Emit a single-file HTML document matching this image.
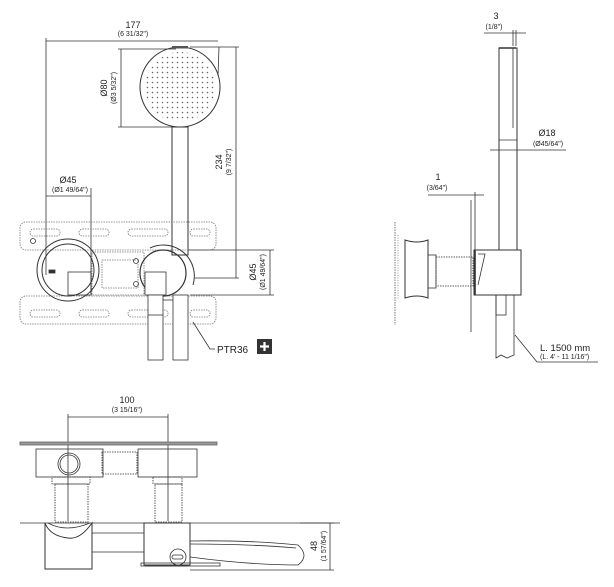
<!DOCTYPE html>
<html><head><meta charset="utf-8"><style>
html,body{margin:0;padding:0;background:#fff;width:614px;height:587px;overflow:hidden}
svg{display:block}
text{font-family:"Liberation Sans",sans-serif;fill:#222}
.t{font-size:9px}.s{font-size:7px}
</style></head><body>
<svg width="614" height="587" viewBox="0 0 614 587" xmlns="http://www.w3.org/2000/svg" fill="none" stroke="#333" stroke-width="0.8">
<!-- ===== FRONT VIEW ===== -->
<!-- 177 dim -->
<line x1="46" y1="38" x2="46" y2="275"/>
<line x1="46" y1="41" x2="218" y2="41"/>
<line x1="219" y1="47" x2="218" y2="76"/>
<text class="t" x="133" y="28" text-anchor="middle" stroke="none">177</text>
<text class="s" x="133" y="36" text-anchor="middle" stroke="none">(6 31/32")</text>
<!-- shower head -->
<circle cx="180" cy="87" r="40" stroke-width="1"/>
<rect x="172" y="46" width="16" height="2.5" fill="#555" stroke="none"/>
<g fill="#777" stroke="none">
<pattern id="dots" width="5" height="5" patternUnits="userSpaceOnUse"><circle cx="2.5" cy="2.5" r="0.8" fill="#666"/></pattern>
<circle cx="180" cy="87" r="35" fill="url(#dots)"/>
</g>
<!-- Ø80 dim -->
<line x1="118" y1="49" x2="176" y2="49"/>
<line x1="118" y1="127" x2="176" y2="127"/>
<line x1="121" y1="49" x2="121" y2="127"/>
<text class="t" transform="translate(107,88) rotate(-90)" text-anchor="middle" stroke="none">Ø80</text>
<text class="s" transform="translate(116,88) rotate(-90)" text-anchor="middle" stroke="none">(Ø3 5/32")</text>
<!-- handle -->
<rect x="172" y="127" width="16" height="128" stroke-width="1"/>
<!-- 234 dim -->
<line x1="190" y1="47" x2="239" y2="47"/>
<line x1="195" y1="278" x2="239" y2="278"/>
<line x1="236" y1="47" x2="236" y2="278"/>
<text class="t" transform="translate(222,162) rotate(-90)" text-anchor="middle" stroke="none">234</text>
<text class="s" transform="translate(231,162) rotate(-90)" text-anchor="middle" stroke="none">(9 7/32")</text>
<!-- Ø45 left dim -->
<line x1="46" y1="196" x2="91" y2="196"/>
<line x1="91" y1="188" x2="91" y2="295"/>
<text class="t" x="68" y="183" text-anchor="middle" stroke="none">Ø45</text>
<text class="s" x="70" y="192" text-anchor="middle" stroke="none">(Ø1 49/64")</text>
<!-- plates -->
<g stroke="#777" stroke-dasharray="1.5 1">
<rect x="20" y="222" width="196" height="28" rx="6"/>
<rect x="20" y="296" width="196" height="28" rx="6"/>
<rect x="30" y="229" width="30" height="7" rx="3.5"/><rect x="79" y="229" width="30" height="7" rx="3.5"/><rect x="128" y="229" width="40" height="7" rx="3.5"/><rect x="190" y="229" width="20" height="7" rx="3.5"/>
<rect x="30" y="310" width="30" height="7" rx="3.5"/><rect x="79" y="310" width="30" height="7" rx="3.5"/><rect x="128" y="310" width="40" height="7" rx="3.5"/><rect x="190" y="310" width="20" height="7" rx="3.5"/>
<rect x="92" y="252" width="52" height="43"/>
<rect x="102" y="260" width="36" height="28"/>
</g>
<circle cx="33" cy="241" r="2.5"/>
<!-- left circle -->
<circle cx="68" cy="270" r="31" stroke-width="1"/>
<circle cx="68" cy="270" r="26" stroke-width="1"/>
<rect x="68" y="272" width="23" height="23"/>
<rect x="49" y="270" width="6" height="3" fill="#333"/>
<circle cx="136" cy="261" r="2.5"/><circle cx="136" cy="284" r="2.5"/>
<!-- right circle -->
<path d="M150 248 A31 31 0 0 1 193 285" stroke-width="1"/>
<circle cx="163" cy="273" r="23" stroke-width="1.2"/>
<rect x="145" y="272" width="21" height="23" fill="#fff"/>
<!-- hoses -->
<rect x="148" y="295" width="15" height="65" fill="#fff"/>
<line x1="148" y1="315" x2="163" y2="315"/>
<rect x="173" y="295" width="15" height="65" fill="#fff"/>
<line x1="163" y1="300" x2="173" y2="300"/>
<!-- Ø45 right dim -->
<line x1="188" y1="250" x2="274" y2="250"/>
<line x1="190" y1="295" x2="274" y2="295"/>
<line x1="270" y1="250" x2="270" y2="295"/>
<text class="t" transform="translate(256,272) rotate(-90)" text-anchor="middle" stroke="none">Ø45</text>
<text class="s" transform="translate(265,272) rotate(-90)" text-anchor="middle" stroke="none">(Ø1 49/64")</text>
<!-- PTR36 -->
<polyline points="193,322 210,349 215,349"/>
<text x="217" y="353" style="font-size:10px" stroke="none">PTR36</text>
<rect x="257" y="339" width="15" height="15" fill="#333" stroke="none"/>
<path d="M264.5 342v9M260 346.5h9" stroke="#fff" stroke-width="2.2"/>

<!-- ===== BOTTOM (TOP) VIEW ===== -->
<line x1="68" y1="414" x2="68" y2="521"/>
<line x1="168" y1="414" x2="168" y2="521"/>
<line x1="68" y1="417" x2="168" y2="417"/>
<text class="t" x="127" y="403" text-anchor="middle" stroke="none">100</text>
<text class="s" x="127" y="412" text-anchor="middle" stroke="none">(3 15/16")</text>
<rect x="20" y="442" width="197" height="3" fill="#999" stroke="#666"/>
<rect x="36" y="449" width="67" height="28"/>
<circle cx="69" cy="464" r="11"/><circle cx="69" cy="464" r="9"/>
<rect x="102" y="452" width="35" height="22" stroke-dasharray="1.5 1"/>
<rect x="138" y="449" width="59" height="28"/>
<rect x="52" y="477" width="38" height="7" stroke-dasharray="1.5 1"/>
<rect x="55" y="484" width="33" height="38" stroke-dasharray="1.5 1"/>
<rect x="153" y="477" width="29" height="7" stroke-dasharray="1.5 1"/>
<rect x="155" y="484" width="27" height="38" stroke-dasharray="1.5 1"/>
<line x1="20" y1="523" x2="340" y2="523"/>
<path d="M45 523 V569 H92 V523 Q80 540 68 538 Q50 536 45 523Z" stroke-width="1"/>
<path d="M48 523 Q66 533 90 523"/>
<rect x="144" y="523" width="46" height="42" stroke-width="1"/>
<path d="M92 533 H144 M92 552 H144"/>
<path d="M190 541 Q250 540 298 545 Q310 556 298 565 Q250 565 190 557"/>
<path d="M190 544 Q250 544 296 548"/>
<circle cx="178" cy="557" r="8" fill="#fff"/>
<rect x="172" y="555" width="11" height="4" rx="2"/>
<rect x="141" y="563" width="79" height="3"/>
<line x1="145" y1="566" x2="188" y2="566"/>
<line x1="190" y1="570" x2="334" y2="570"/>
<line x1="300" y1="523" x2="334" y2="523"/>
<line x1="330" y1="523" x2="330" y2="570"/>
<text class="t" transform="translate(317,546) rotate(-90)" text-anchor="middle" stroke="none">48</text>
<text class="s" transform="translate(326,546) rotate(-90)" text-anchor="middle" stroke="none">(1 57/64")</text>

<!-- ===== SIDE VIEW ===== -->
<text class="t" x="496" y="19" text-anchor="middle" stroke="none">3</text>
<text class="s" x="494" y="29" text-anchor="middle" stroke="none">(1/8")</text>
<line x1="484" y1="33" x2="526" y2="33"/>
<line x1="513" y1="30" x2="513" y2="46"/><line x1="516" y1="30" x2="516" y2="46"/>
<rect x="499" y="48" width="18" height="202" stroke-width="1"/>
<line x1="499" y1="48" x2="516" y2="48" stroke-width="1.6"/>
<line x1="513" y1="48" x2="513" y2="128"/>
<line x1="499" y1="140" x2="517" y2="140"/>
<line x1="490" y1="150" x2="566" y2="150"/>
<text class="t" x="547" y="136" text-anchor="middle" stroke="none">Ø18</text>
<text class="s" x="548" y="146" text-anchor="middle" stroke="none">(Ø45/64")</text>
<text class="t" x="438" y="180" text-anchor="middle" stroke="none">1</text>
<text class="s" x="437" y="190" text-anchor="middle" stroke="none">(3/64")</text>
<line x1="428" y1="195" x2="484" y2="195"/>
<line x1="471" y1="200" x2="471" y2="332"/>
<line x1="475" y1="192" x2="475" y2="250"/>
<rect x="474" y="250" width="47" height="45" stroke-width="1"/>
<line x1="475" y1="250" x2="475" y2="295" stroke-width="1.6"/>
<path d="M478 254 L485 254 L478 285"/>
<path d="M405 240 Q417 244 428 240 V298 Q417 294 405 298Z" stroke-width="1"/>
<rect x="428" y="255" width="8" height="33"/>
<rect x="436" y="257" width="37" height="29" stroke-dasharray="1.5 1"/>
<line x1="395" y1="222" x2="395" y2="325" stroke-dasharray="1.5 1" stroke="#555"/>
<line x1="398" y1="235" x2="398" y2="300" stroke-dasharray="1 1.5" stroke="#888"/>
<path d="M496 295 V358 L501 355 L507 358 L514 355 V295"/>
<rect x="496" y="295" width="10" height="20"/>
<polyline points="515,335 537,362 598,362"/>
<text x="540" y="351" style="font-size:9.5px" stroke="none">L. 1500 mm</text>
<text class="s" x="540" y="359" stroke="none">(L. 4' - 11 1/16")</text>
</svg>
</body></html>
